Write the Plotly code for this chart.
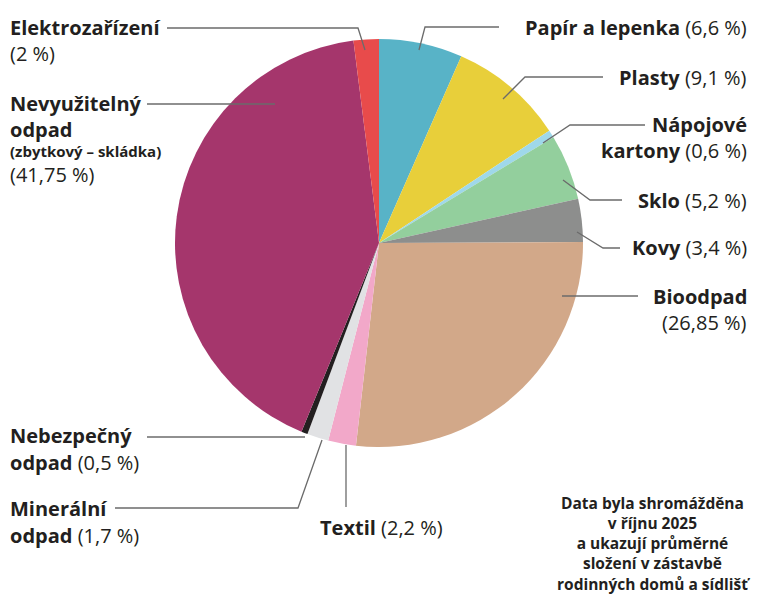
import plotly.graph_objects as go

W, H = 765, 598

# Data (clockwise from 12 o'clock)
names = ["Papír a lepenka", "Plasty", "Nápojové kartony", "Sklo", "Kovy", "Bioodpad",
         "Textil", "Minerální odpad", "Nebezpečný odpad", "Nevyužitelný odpad", "Elektrozařízení"]
values = [6.6, 9.1, 0.6, 5.2, 3.4, 26.85, 2.2, 1.7, 0.5, 41.75, 2]
colors = ["#58b3c7", "#e8cf3a", "#9fd8ea", "#93cf9d", "#8d8e8d", "#d2a889",
          "#f2a8c9", "#e1e2e4", "#231f20", "#a5366c", "#e84b4b"]

note_lines = ["Data byla shromážděna", "v říjnu 2025", "a ukazují průměrné",
              "složení v zástavbě", "rodinných domů a sídlišť"]


def pct(v):
    return f"({v:g} %)".replace(".", ",")


pct_txt = dict(zip(names, [pct(v) for v in values]))

CX, CY, R = 379, 243, 204

fig = go.Figure()
fig.add_trace(go.Pie(
    labels=names, values=values, sort=False, direction="clockwise", rotation=0,
    marker=dict(colors=colors, line=dict(width=0)), textinfo="none", hoverinfo="label+percent",
    showlegend=False,
    domain=dict(x=[(CX - R) / W, (CX + R) / W], y=[(H - CY - R) / H, (H - CY + R) / H]),
))

FONT = "Open Sans"
TXT = "#231f20"
LINE = "#6b6b6b"
FS = 20


def P(x, y):
    return x / W, 1 - y / H


def label(x, y, text, anchor="left", size=FS, yanchor="middle"):
    px, py = P(x, y)
    fig.add_annotation(x=px, y=py, xref="paper", yref="paper", text=text, showarrow=False,
                       xanchor=anchor, yanchor=yanchor, align=anchor, borderpad=0,
                       font=dict(family=FONT, size=size, color=TXT))


def leader(points):
    d = ""
    for i, (x, y) in enumerate(points):
        px, py = P(x, y)
        d += ("M" if i == 0 else "L") + f"{px},{py} "
    fig.add_shape(type="path", path=d.strip(), xref="paper", yref="paper",
                  line=dict(color=LINE, width=1.3))


# Left side labels
label(9, 28, "<b>Elektrozařízení</b>")
label(9, 54, pct_txt["Elektrozařízení"])
leader([(167, 28), (358, 28), (365, 50)])

label(9, 116.5, "<b>Nevyužitelný</b><br><b>odpad</b>")
label(9, 151, "<b>(zbytkový – skládka)</b>", size=15)
label(9, 174, pct_txt["Nevyužitelný odpad"])
leader([(147, 104), (275, 104)])

label(9, 435, "<b>Nebezpečný</b>")
label(9, 462, "<b>odpad</b> " + pct_txt["Nebezpečný odpad"])
leader([(147, 437), (305, 437)])

label(9, 508, "<b>Minerální</b>")
label(9, 535, "<b>odpad</b> " + pct_txt["Minerální odpad"])
leader([(115, 508), (298, 508), (322, 440)])

label(319, 527, "<b>Textil</b> " + pct_txt["Textil"])
leader([(346, 445), (346, 507)])

# Right side labels
label(748, 28, "<b>Papír a lepenka</b> " + pct_txt["Papír a lepenka"], anchor="right")
leader([(499, 27), (425, 27), (419, 50)])

label(748, 77, "<b>Plasty</b> " + pct_txt["Plasty"], anchor="right")
leader([(603, 77), (525, 77), (503, 99)])

label(748, 125, "<b>Nápojové</b>", anchor="right")
label(748, 151, "<b>kartony</b> " + pct_txt["Nápojové kartony"], anchor="right")
leader([(645, 125), (570, 125), (543, 143)])

label(748, 200, "<b>Sklo</b> " + pct_txt["Sklo"], anchor="right")
leader([(622, 200), (590, 200), (563, 180)])

label(748, 248, "<b>Kovy</b> " + pct_txt["Kovy"], anchor="right")
leader([(620, 248), (603, 248), (577, 232)])

label(748, 296, "<b>Bioodpad</b>", anchor="right")
label(748, 322, pct_txt["Bioodpad"], anchor="right")
leader([(638, 296), (562, 296)])

# Note (single block, cut by the bottom edge as in the original)
label(653, 491, "<br>".join("<b>" + t + "</b>" for t in note_lines),
      anchor="center", size=15.5, yanchor="top")

fig.update_layout(width=W, height=H, margin=dict(l=0, r=0, t=0, b=0),
                  paper_bgcolor="white", plot_bgcolor="white",
                  font=dict(family=FONT, color=TXT))

fig.write_html("out.html", config={"displayModeBar": False},
               post_script="document.body.style.margin='0';")
